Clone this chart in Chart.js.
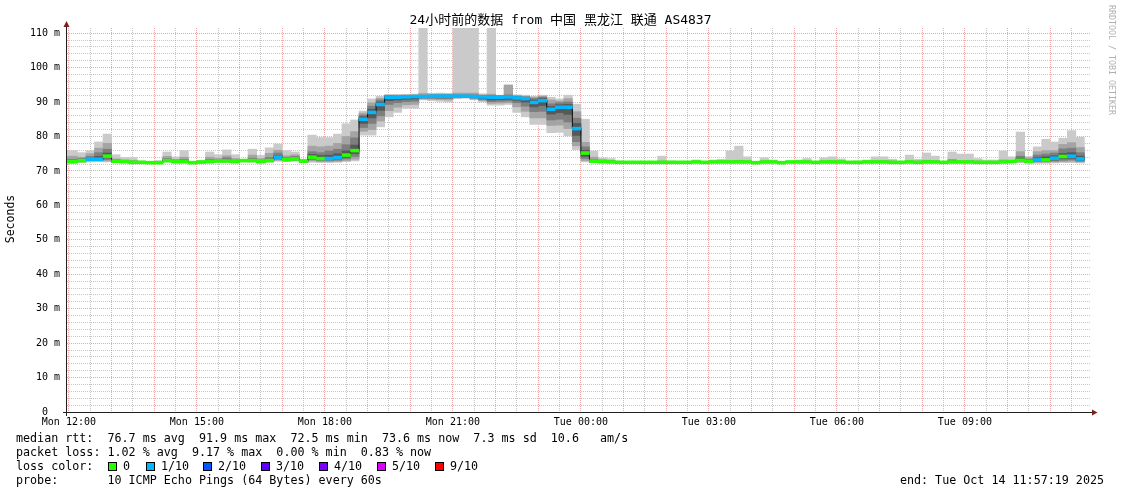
<!DOCTYPE html>
<html>
<head>
<meta charset="utf-8">
<script src="https://cdn.jsdelivr.net/npm/chart.js@4.4.1/dist/chart.umd.min.js"></script>
<style>
html,body{margin:0;padding:0;background:#ffffff;}
canvas{display:block;}
</style>
</head>
<body>
<canvas id="c" width="1121" height="494" style="width:1121px;height:494px"></canvas>
<script>
// ---------- time axis (minutes relative to Mon 12:00) ----------
const BIN_MINUTES = 12;
const FIRST_BIN_START = -12;          // first (partial) 12-minute bin starts at 11:48
const AXIS_START = -2.68;             // 11:57:19 Mon
const AXIS_END = 1437.32;             // 11:57:19 Tue
const Y_MAX = 111.5;

const timeLabels = ['Mon 12:00', 'Mon 15:00', 'Mon 18:00', 'Mon 21:00', 'Tue 00:00', 'Tue 03:00', 'Tue 06:00', 'Tue 09:00'];
const yTickLabels = ['0  ', '10 m', '20 m', '30 m', '40 m', '50 m', '60 m', '70 m', '80 m', '90 m', '100 m', '110 m'];

// ---------- sorted ping values per 12-min bin (ms), bins 11:48 Mon .. 11:36 Tue ----------
const pMin = [
72.2,72.2,72.4,72.6,72.7,72.6,72.4,72.3,72.2,72.2,
72.1,72.1,72.5,72.3,72.3,72.1,72.2,72.3,72.5,72.4,
72.3,72.6,72.5,72.3,72.5,72.8,72.7,72.8,72.4,72.5,
72.4,72.4,72.5,72.7,72.9,80.4,80.4,82.8,85.7,87.0,
88.2,88.2,90.6,90.4,90.2,90.0,91.0,91.1,90.6,90.0,
89.1,89.1,89.3,87.0,85.7,83.5,83.5,81.1,81.2,80.2,
76.2,72.6,72.4,72.3,72.3,72.2,72.2,72.2,72.2,72.2,
72.2,72.2,72.2,72.2,72.3,72.2,72.3,72.3,72.3,72.3,
72.3,72.1,72.3,72.3,72.1,72.3,72.3,72.3,72.2,72.3,
72.3,72.3,72.2,72.2,72.3,72.3,72.3,72.2,72.2,72.3,
72.2,72.3,72.3,72.2,72.3,72.3,72.3,72.2,72.2,72.2,
72.3,72.4,72.3,72.2,72.2,72.2,72.3,72.4,72.4,72.3];
const p2 = [
72.4,72.4,72.6,72.9,72.9,72.9,72.5,72.4,72.3,72.3,
72.2,72.2,72.7,72.4,72.4,72.2,72.3,72.4,72.6,72.6,
72.4,72.7,72.7,72.4,72.7,73.1,72.9,73.0,72.5,72.9,
72.7,72.7,72.8,73.0,73.4,81.5,82.0,84.5,87.5,88.5,
89.2,89.3,90.9,90.8,90.7,90.6,91.2,91.3,90.9,90.4,
89.6,89.7,89.8,88.6,87.3,85.4,85.4,83.2,83.3,82.3,
77.3,73.0,72.5,72.4,72.4,72.3,72.3,72.3,72.3,72.3,
72.3,72.3,72.3,72.3,72.4,72.3,72.4,72.4,72.4,72.4,
72.4,72.2,72.4,72.4,72.2,72.4,72.4,72.4,72.3,72.4,
72.4,72.4,72.3,72.3,72.4,72.4,72.4,72.3,72.3,72.4,
72.3,72.4,72.4,72.3,72.4,72.4,72.4,72.3,72.3,72.3,
72.4,72.5,72.6,72.4,72.5,72.5,72.6,72.7,72.8,72.6];
const p3 = [
72.5,72.5,72.8,73.1,73.1,73.3,72.6,72.5,72.4,72.4,
72.3,72.3,72.8,72.5,72.5,72.3,72.4,72.5,72.7,72.7,
72.5,72.8,72.8,72.5,72.8,73.4,73.0,73.2,72.6,73.3,
73.0,73.0,73.1,73.5,74.2,82.6,83.8,86.0,89.3,89.8,
90.1,90.2,91.1,91.1,91.0,91.0,91.4,91.4,91.1,90.7,
90.1,90.2,90.3,89.8,88.8,87.2,87.3,84.8,85.0,84.2,
78.5,73.6,72.6,72.5,72.5,72.4,72.4,72.4,72.4,72.4,
72.4,72.4,72.4,72.4,72.5,72.4,72.5,72.5,72.5,72.5,
72.5,72.3,72.5,72.5,72.3,72.5,72.5,72.5,72.4,72.5,
72.5,72.5,72.4,72.4,72.5,72.5,72.5,72.4,72.4,72.5,
72.4,72.5,72.5,72.4,72.5,72.5,72.5,72.4,72.4,72.4,
72.5,72.6,72.8,72.5,72.7,72.7,72.9,73.1,73.2,72.8];
const p4 = [
72.6,72.6,72.9,73.2,73.3,73.8,72.7,72.6,72.4,72.4,
72.3,72.3,72.9,72.6,72.6,72.3,72.5,72.6,72.8,72.8,
72.6,72.9,72.9,72.6,72.9,73.7,73.2,73.4,72.7,73.7,
73.3,73.3,73.5,74.0,75.0,83.8,85.4,87.6,90.4,90.6,
90.8,90.9,91.3,91.3,91.3,91.3,91.5,91.5,91.3,91.0,
90.6,90.7,90.8,90.5,90.0,88.6,89.0,86.5,86.9,86.4,
80.3,74.2,72.7,72.6,72.5,72.4,72.4,72.4,72.4,72.4,
72.4,72.4,72.4,72.4,72.5,72.4,72.5,72.5,72.5,72.5,
72.5,72.3,72.5,72.5,72.3,72.5,72.5,72.5,72.4,72.5,
72.5,72.5,72.4,72.4,72.5,72.5,72.5,72.4,72.4,72.5,
72.4,72.5,72.5,72.4,72.5,72.5,72.5,72.4,72.4,72.4,
72.5,72.6,73.0,72.7,72.9,72.9,73.2,73.6,73.7,73.1];
const p5 = [
72.7,72.7,73.0,73.3,73.4,74.2,72.8,72.7,72.5,72.5,
72.4,72.4,73.0,72.7,72.7,72.4,72.6,72.7,72.9,72.9,
72.7,73.0,73.0,72.7,73.0,73.9,73.3,73.5,72.8,73.9,
73.5,73.5,73.8,74.5,75.7,84.8,86.8,89.1,91.2,91.3,
91.4,91.4,91.5,91.6,91.6,91.6,91.6,91.6,91.5,91.3,
91.2,91.3,91.3,91.1,90.9,89.7,90.2,87.7,88.3,88.3,
82.1,75.0,72.8,72.7,72.6,72.5,72.5,72.5,72.5,72.5,
72.5,72.5,72.5,72.5,72.6,72.5,72.6,72.6,72.6,72.6,
72.6,72.4,72.6,72.6,72.4,72.6,72.6,72.6,72.5,72.6,
72.6,72.6,72.5,72.5,72.6,72.6,72.6,72.5,72.5,72.6,
72.5,72.6,72.6,72.5,72.6,72.6,72.6,72.5,72.5,72.5,
72.6,72.7,73.1,72.8,73.1,73.1,73.6,74.1,74.2,73.4];
const p6 = [
72.8,72.8,73.1,73.5,73.6,74.5,72.9,72.8,72.6,72.5,
72.4,72.5,73.1,72.8,72.8,72.4,72.6,72.8,73.0,73.0,
72.8,73.0,73.1,72.8,73.1,74.1,73.4,73.6,72.9,74.1,
73.7,73.8,74.1,74.8,76.1,85.2,87.2,89.5,91.5,91.5,
91.6,91.6,91.7,91.8,91.8,91.8,91.8,91.8,91.7,91.6,
91.5,91.5,91.6,91.3,91.1,90.1,90.6,88.1,88.7,88.7,
82.5,75.4,72.9,72.8,72.7,72.5,72.5,72.5,72.5,72.5,
72.5,72.5,72.5,72.5,72.6,72.5,72.6,72.6,72.6,72.6,
72.6,72.4,72.6,72.6,72.4,72.6,72.6,72.6,72.5,72.6,
72.6,72.6,72.5,72.5,72.6,72.6,72.6,72.5,72.5,72.6,
72.5,72.6,72.6,72.5,72.6,72.6,72.6,72.5,72.5,72.5,
72.6,72.7,73.3,72.9,73.3,73.4,73.9,74.4,74.5,73.7];
const p7 = [
73.0,73.0,73.3,73.7,74.2,75.2,73.0,72.9,72.7,72.6,
72.5,72.5,73.3,72.9,73.0,72.5,72.7,73.0,73.1,73.3,
72.9,73.1,73.3,72.9,73.4,74.5,73.6,73.8,73.0,74.8,
74.5,74.6,75.0,75.8,77.5,85.7,87.9,90.0,91.7,91.7,
91.7,91.8,91.8,91.9,91.9,91.9,91.9,91.9,91.9,91.7,
91.7,91.7,91.8,91.5,91.3,90.6,91.0,88.7,89.2,89.3,
83.8,76.0,73.0,72.9,72.8,72.6,72.6,72.6,72.6,72.6,
72.6,72.6,72.6,72.6,72.7,72.6,72.7,72.7,72.7,72.7,
72.7,72.5,72.7,72.7,72.5,72.7,72.7,72.7,72.6,72.7,
72.7,72.7,72.6,72.6,72.7,72.7,72.7,72.6,72.6,72.7,
72.6,72.7,72.7,72.6,72.8,72.7,72.7,72.6,72.6,72.6,
72.7,72.8,73.7,73.1,73.8,74.1,74.4,75.1,75.3,74.3];
const p8 = [
73.4,73.4,73.6,74.2,75.3,76.3,73.2,73.0,72.8,72.6,
72.5,72.6,73.6,73.1,73.3,72.5,72.7,73.3,73.3,73.8,
73.1,73.2,73.7,73.1,73.9,75.2,73.9,74.2,73.1,75.6,
75.3,75.8,76.3,77.6,79.6,86.2,88.8,90.6,91.9,91.8,
91.9,91.9,92.0,92.1,92.1,92.1,92.1,92.1,92.1,91.9,
91.9,91.8,92.1,91.7,91.5,91.0,91.4,89.5,89.8,90.0,
85.3,77.0,73.3,73.0,72.9,72.6,72.6,72.6,72.6,72.6,
72.7,72.6,72.6,72.6,72.8,72.6,72.8,72.8,72.8,72.9,
72.8,72.5,72.8,72.8,72.5,72.7,72.8,72.8,72.6,72.8,
72.8,72.8,72.6,72.6,72.8,72.8,72.8,72.7,72.6,72.8,
72.7,72.9,72.8,72.6,73.1,72.8,72.8,72.7,72.7,72.7,
72.9,72.9,74.3,73.4,74.6,74.9,75.2,76.4,76.6,75.3];
const p9 = [
74.2,74.3,74.0,75.0,76.6,78.0,73.5,73.2,73.1,72.7,
72.6,72.7,74.2,73.4,74.0,72.6,72.8,74.0,73.7,74.4,
73.6,73.3,74.6,73.6,75.1,76.0,74.4,74.7,73.2,77.2,
77.0,77.2,78.0,80.0,81.4,86.8,89.8,91.1,92.0,92.0,
92.1,92.1,92.5,92.3,92.3,92.3,92.6,92.6,92.6,92.1,
92.3,91.9,94.9,91.9,91.7,91.4,91.7,90.6,90.3,91.0,
87.2,78.3,74.0,73.3,73.1,72.7,72.7,72.7,72.7,72.7,
72.9,72.7,72.7,72.7,72.9,72.7,72.9,73.0,73.0,73.1,
72.9,72.5,72.9,72.9,72.5,72.8,72.9,72.9,72.7,72.9,
73.0,72.9,72.7,72.7,72.9,73.0,73.0,72.9,72.7,73.0,
72.9,73.1,73.0,72.7,73.4,73.0,73.0,72.9,72.8,72.8,
73.2,73.1,75.6,73.8,75.6,75.9,75.9,77.7,78.2,76.8];
const pMax = [
75.9,75.9,75.3,75.9,78.4,80.7,74.7,73.9,73.9,72.9,
72.8,73.0,75.5,74.1,75.9,72.8,73.0,75.5,74.7,76.1,
74.7,73.4,76.3,74.5,76.7,77.8,75.9,75.5,73.4,80.4,
79.7,79.7,80.7,83.7,84.8,87.4,90.9,91.7,92.2,92.2,
92.2,92.3,115,92.5,92.6,92.5,115,115,115,92.4,
115,92.0,95.0,92.1,92.0,91.7,92.0,91.4,90.9,92.0,
89.4,85.0,75.8,73.8,73.6,72.9,72.8,72.8,72.8,72.8,
74.3,72.9,72.8,72.8,73.2,72.8,73.2,73.4,75.8,77.2,
74.1,72.6,73.8,73.2,72.6,72.9,73.2,73.6,72.8,73.8,
74.1,73.5,72.8,72.9,73.2,74.1,74.1,73.4,72.8,74.6,
73.4,75.2,74.3,72.8,75.5,74.9,74.9,73.6,73.2,73.2,
75.8,74.1,81.3,74.2,77.0,79.2,78.4,79.5,81.7,79.8];
const medianRtt = [
72.7,72.7,73.0,73.4,73.4,74.3,72.8,72.7,72.5,72.5,
72.4,72.4,73.0,72.7,72.7,72.4,72.6,72.7,72.9,72.9,
72.7,73.0,73.0,72.7,73.0,74.0,73.3,73.5,72.8,74.0,
73.6,73.6,73.9,74.6,75.9,85.0,87.0,89.3,91.4,91.4,
91.5,91.6,91.6,91.7,91.7,91.7,91.7,91.7,91.6,91.5,
91.4,91.4,91.5,91.2,91.0,89.9,90.4,87.9,88.5,88.5,
82.3,75.2,72.8,72.7,72.6,72.5,72.5,72.5,72.5,72.5,
72.5,72.5,72.5,72.5,72.6,72.5,72.6,72.6,72.6,72.6,
72.6,72.4,72.6,72.6,72.4,72.6,72.6,72.6,72.5,72.6,
72.6,72.6,72.5,72.5,72.6,72.6,72.6,72.5,72.5,72.6,
72.5,72.6,72.6,72.5,72.6,72.6,72.6,72.5,72.5,72.5,
72.6,72.7,73.1,72.8,73.2,73.2,73.7,74.2,74.3,73.5];
const lossTenths = [
0,0,0,1,1,0,0,0,0,0,
0,0,0,0,0,0,0,0,0,0,
0,0,0,0,0,1,0,0,0,0,
0,1,1,0,0,1,1,1,1,1,
1,1,1,1,1,1,1,1,1,1,
1,1,1,1,1,1,1,1,1,1,
1,0,0,0,0,0,0,0,0,0,
0,0,0,0,0,0,0,0,0,0,
0,0,0,0,0,0,0,0,0,0,
0,0,0,0,0,0,0,0,0,0,
0,0,0,0,0,0,0,0,0,0,
0,0,0,0,1,0,1,0,1,1];

const lossLegendLabels = ['0', '1/10', '2/10', '3/10', '4/10', '5/10', '9/10'];
const lossLegendTenths = [0, 1, 2, 3, 4, 5, 9];
const LOSS_COLORS = {0: '#26ff00', 1: '#00b8ff', 2: '#0059ff', 3: '#5e00ff', 4: '#7e00ff', 5: '#dd00ff', 9: '#ff0000'};

const legendLines = [
  'median rtt:  76.7 ms avg  91.9 ms max  72.5 ms min  73.6 ms now  7.3 ms sd  10.6   am/s',
  'packet loss: 1.02 % avg  9.17 % max  0.00 % min  0.83 % now',
  'loss color:',
  'probe:       10 ICMP Echo Pings (64 Bytes) every 60s'
];
const endText = 'end: Tue Oct 14 11:57:19 2025';
const titleText = '24小时前的数据 from 中国 黑龙江 联通 AS4837';

// ---------- styles ----------
const SMOKE = ['#cacaca', '#a4a4a4', '#7e7e7e', '#585858', '#323232'];
const MINOR = 'rgba(143,143,143,0.5)';
const MAJOR = 'rgba(222,79,79,0.5)';
const AXIS_COLOR = '#1f1f1f';
const ARROW_COLOR = '#801f1f';
const MONO = '"DejaVu Sans Mono", "Noto Sans CJK SC", monospace';
const MEDIAN_HALF = 0.42;

// ---------- build ----------
const binStarts = medianRtt.map((_, i) => FIRST_BIN_START + i * BIN_MINUTES);
const binCenters = binStarts.map(s => s + BIN_MINUTES / 2);
const labelMinutes = timeLabels.map((_, i) => i * 180);
const xGrid = [];
for (let m = 0; m <= AXIS_END; m += 30) xGrid.push(m);
const yGrid = [];
for (let v = 0; v <= 110; v += 2) yGrid.push(v);

const bands = [[pMin, pMax], [p2, p9], [p3, p8], [p4, p7], [p5, p6]];
const datasets = bands.map(([lo, hi], j) => ({
  type: 'bar',
  data: lo.map((v, i) => ({x: binCenters[i], y: [v, hi[i]]})),
  backgroundColor: SMOKE[j],
  borderWidth: 0,
  grouped: false,
  barPercentage: 1,
  categoryPercentage: 1,
  order: 10 - j,
  clip: 0
}));
const last = medianRtt.length - 1;
datasets.push({
  type: 'line',
  data: binStarts.map((s, i) => ({x: s, y: medianRtt[i]})).concat([{x: binStarts[last] + BIN_MINUTES, y: medianRtt[last]}]),
  stepped: 'before',
  borderColor: '#111111',
  borderWidth: 1,
  pointRadius: 0,
  fill: false,
  order: 2,
  clip: 0
});
datasets.push({
  type: 'bar',
  data: medianRtt.map((m, i) => ({x: binCenters[i], y: [m - MEDIAN_HALF, m + MEDIAN_HALF]})),
  backgroundColor: lossTenths.map(l => LOSS_COLORS[l]),
  borderWidth: 0,
  grouped: false,
  barPercentage: 1,
  categoryPercentage: 1,
  order: 1,
  clip: 0
});

const decor = {
  id: 'decor',
  afterDraw(chart) {
    const ctx = chart.ctx;
    const a = chart.chartArea;
    ctx.save();
    // axes
    const ax = Math.round(a.left) - 0.5;
    const ay = Math.round(a.bottom) + 0.5;
    ctx.strokeStyle = AXIS_COLOR;
    ctx.lineWidth = 1;
    ctx.beginPath();
    ctx.moveTo(a.left - 4, ay); ctx.lineTo(a.right + 2, ay);
    ctx.moveTo(ax, a.bottom + 4); ctx.lineTo(ax, a.top - 2);
    ctx.stroke();
    ctx.fillStyle = ARROW_COLOR;
    ctx.beginPath();
    ctx.moveTo(a.right + 1, ay - 3); ctx.lineTo(a.right + 6.5, ay); ctx.lineTo(a.right + 1, ay + 3); ctx.closePath();
    ctx.fill();
    ctx.beginPath();
    ctx.moveTo(ax - 3, a.top - 1); ctx.lineTo(ax, a.top - 7); ctx.lineTo(ax + 3, a.top - 1); ctx.closePath();
    ctx.fill();

    // title
    ctx.fillStyle = '#000000';
    ctx.textBaseline = 'middle';
    ctx.textAlign = 'center';
    ctx.font = '13px ' + MONO;
    ctx.fillText(titleText, 560.5, 21);

    // y axis title
    ctx.save();
    ctx.translate(11, 219);
    ctx.rotate(-Math.PI / 2);
    ctx.font = '11.5px ' + MONO;
    ctx.fillText('Seconds', 0, 0);
    ctx.restore();

    // watermark
    ctx.save();
    ctx.translate(1111.5, 60);
    ctx.rotate(Math.PI / 2);
    ctx.fillStyle = '#b0b0b0';
    ctx.font = '8.3px ' + MONO;
    ctx.fillText('RRDTOOL / TOBI OETIKER', 0, 0);
    ctx.restore();

    // legend
    ctx.textAlign = 'left';
    ctx.font = '11.7px ' + MONO;
    const ys = [438.5, 452.5, 466.5, 480.5];
    legendLines.forEach((t, i) => ctx.fillText(t, 16, ys[i]));
    const sqX = [108, 146, 203, 261, 319, 377, 435];
    lossLegendLabels.forEach((lab, i) => {
      const x = sqX[i];
      ctx.fillStyle = LOSS_COLORS[lossLegendTenths[i]];
      ctx.fillRect(x, ys[2] - 4.5, 9, 9);
      ctx.strokeStyle = '#000000';
      ctx.strokeRect(x + 0.5, ys[2] - 4, 8, 8);
      ctx.fillStyle = '#000000';
      ctx.fillText(lab, x + 15, ys[2]);
    });
    ctx.textAlign = 'right';
    ctx.fillText(endText, 1104, ys[3]);
    ctx.restore();
  }
};

new Chart(document.getElementById('c'), {
  type: 'bar',
  data: {datasets},
  options: {
    responsive: false,
    animation: false,
    devicePixelRatio: 1,
    events: [],
    layout: {padding: {left: 0, top: 28, right: 30, bottom: 0}},
    plugins: {legend: {display: false}, tooltip: {enabled: false}, title: {display: false}},
    scales: {
      x: {
        type: 'linear',
        min: AXIS_START,
        max: AXIS_END,
        bounds: 'data',
        offset: false,
        afterBuildTicks: s => { s.ticks = xGrid.map(v => ({value: v})); },
        afterFit: s => { s.height = 82; },
        grid: {
          offset: false,
          drawTicks: false,
          lineWidth: 1,
          color: c => (c.tick && c.tick.value % 60 === 0) ? MAJOR : MINOR
        },
        border: {display: false, dash: [1, 1]},
        ticks: {
          autoSkip: false,
          maxRotation: 0,
          minRotation: 0,
          padding: 4,
          color: '#000000',
          font: {family: MONO, size: 10},
          callback: v => { const k = labelMinutes.indexOf(v); return k >= 0 ? timeLabels[k] : ''; }
        }
      },
      y: {
        type: 'linear',
        min: 0,
        max: Y_MAX,
        bounds: 'data',
        afterBuildTicks: s => { s.ticks = yGrid.map(v => ({value: v})); },
        afterFit: s => { s.width = 67; },
        grid: {
          drawTicks: false,
          lineWidth: 1,
          color: c => (c.tick && c.tick.value % 10 === 0) ? MAJOR : MINOR
        },
        border: {display: false, dash: [1, 1]},
        ticks: {
          autoSkip: false,
          padding: 7,
          color: '#000000',
          font: {family: MONO, size: 10},
          callback: v => (v % 10 === 0) ? yTickLabels[v / 10] : ''
        }
      }
    }
  },
  plugins: [decor]
});
</script>
</body>
</html>
